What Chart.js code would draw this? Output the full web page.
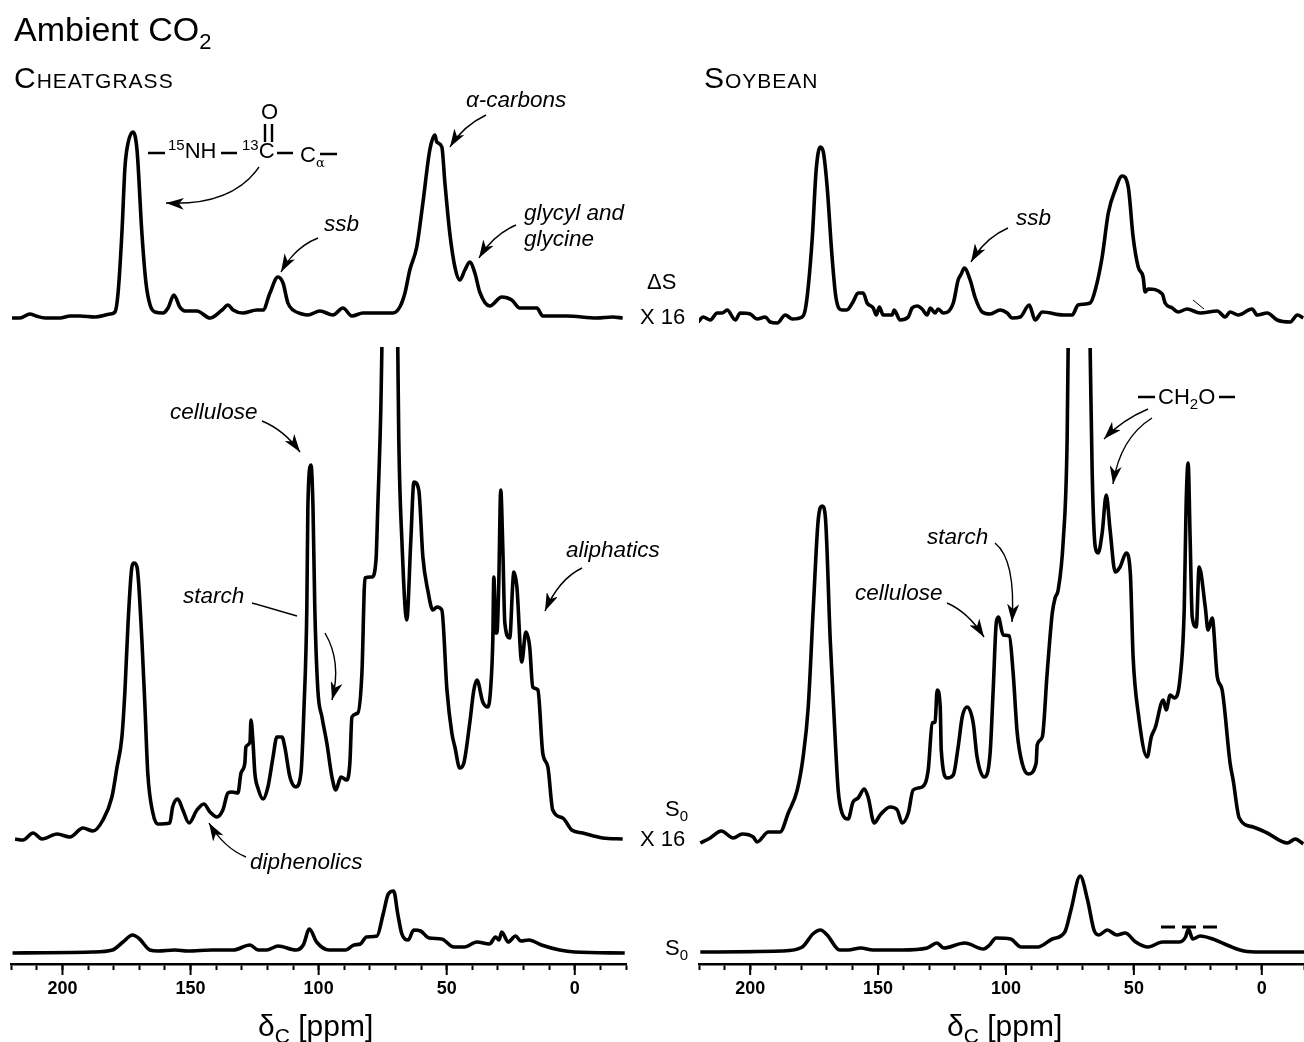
<!DOCTYPE html>
<html><head><meta charset="utf-8">
<script src="https://cdn.jsdelivr.net/npm/chart.js@4"></script>
<style>
html,body{margin:0;padding:0;background:#fff;width:1304px;height:1042px;overflow:hidden}
canvas{position:absolute;top:0}
#c1{left:0}#c2{left:652px}
svg{position:absolute;left:0;top:0}
.t{position:absolute;white-space:nowrap;font-family:"Liberation Sans",Arial,sans-serif;color:#000;line-height:1}
.i{font-style:italic;font-size:22.5px}
.n{font-size:22px}
.sc{font-variant:small-caps;font-size:30px;letter-spacing:1px}
sub,sup{line-height:0}
.ax{font-size:30px}
</style></head><body>
<canvas id="c1" width="652" height="1042"></canvas>
<canvas id="c2" width="678" height="1042"></canvas>
<svg width="1304" height="1042" viewBox="0 0 1304 1042">
<defs><marker id="h" markerUnits="userSpaceOnUse" markerWidth="18" markerHeight="12" refX="18" refY="6" orient="auto"><path d="M18,6 L0,0 L5,6 L0,12 Z" fill="#000"/></marker></defs>
<g fill="none" stroke="#000" stroke-width="1.4">
<path marker-end="url(#h)" d="M259,167 Q232,206 166,203"/>
<path marker-end="url(#h)" d="M318,238 Q295,247 281,272"/>
<path marker-end="url(#h)" d="M486,115 Q463,126 450,147"/>
<path marker-end="url(#h)" d="M516,225 Q493,235 479,258"/>
<path marker-end="url(#h)" d="M262,421 Q284,430 300,452"/>
<path d="M252,603 L297,616"/>
<path marker-end="url(#h)" d="M325,633 Q342,662 332,700"/>
<path marker-end="url(#h)" d="M582,568 Q559,579 545,611"/>
<path marker-end="url(#h)" d="M246,857 Q224,848 209,823"/>
<path marker-end="url(#h)" d="M1008,228 Q985,238 971,262"/>
<path marker-end="url(#h)" d="M1148,409 Q1122,420 1104,439"/>
<path marker-end="url(#h)" d="M1152,418 Q1120,438 1113,484"/>
<path marker-end="url(#h)" d="M947,603 Q968,612 984,637"/>
<path marker-end="url(#h)" d="M995,543 Q1016,560 1012,622"/>
<path d="M1193,300 L1204,309" stroke-width="1"/>
</g>
<g stroke="#000" stroke-width="2.4" fill="none">
<path d="M148,153H165M221,153H237M277,153H293M320,154H337"/>
<path d="M265,124V142M272,124V142"/>
<path d="M1138,397H1155M1219,397H1235"/>
</g>
<path d="M1161,927H1175M1182,927H1196M1203,927H1217" stroke="#000" stroke-width="3" fill="none"/>
</svg>
<div class="t" style="left:14px;top:12px;font-size:34px">Ambient CO<sub style="font-size:22px">2</sub></div>
<div class="t sc" style="left:14px;top:63px">Cheatgrass</div>
<div class="t sc" style="left:704px;top:63px">Soybean</div>
<div class="t n" style="left:168px;top:140px"><sup style="font-size:15px">15</sup>NH</div>
<div class="t n" style="left:242px;top:140px"><sup style="font-size:15px">13</sup>C</div>
<div class="t n" style="left:300px;top:144px">C<sub style="font-size:13px;font-family:'DejaVu Serif'">&#945;</sub></div>
<div class="t n" style="left:261px;top:101px">O</div>
<div class="t n" style="left:1158px;top:386px">CH<sub style="font-size:15px">2</sub>O</div>
<div class="t i" style="left:466px;top:89px">&#945;-carbons</div>
<div class="t i" style="left:324px;top:213px">ssb</div>
<div class="t i" style="left:524px;top:202px">glycyl and</div>
<div class="t i" style="left:524px;top:228px">glycine</div>
<div class="t i" style="left:170px;top:401px">cellulose</div>
<div class="t i" style="left:183px;top:585px">starch</div>
<div class="t i" style="left:566px;top:539px">aliphatics</div>
<div class="t i" style="left:250px;top:851px">diphenolics</div>
<div class="t i" style="left:1016px;top:207px">ssb</div>
<div class="t i" style="left:927px;top:526px">starch</div>
<div class="t i" style="left:855px;top:582px">cellulose</div>
<div class="t n" style="left:647px;top:271px">&#916;S</div>
<div class="t n" style="left:640px;top:306px">X 16</div>
<div class="t n" style="left:665px;top:798px">S<sub style="font-size:15px">0</sub></div>
<div class="t n" style="left:640px;top:828px">X 16</div>
<div class="t n" style="left:665px;top:937px">S<sub style="font-size:15px">0</sub></div>
<div class="t ax" style="left:258px;top:1011px">&#948;<sub style="font-size:21px">C</sub> [ppm]</div>
<div class="t ax" style="left:947px;top:1011px">&#948;<sub style="font-size:21px">C</sub> [ppm]</div>
<script>
const tickLabels = [200, 150, 100, 50, 0];

const cheatDeltaPpm = [219.7,216.6,212.7,210.3,206.8,201,197,193.2,187.3,181.4,179.5,178.3,176.8,175.6,174.4,172.5,170.9,169,167.4,165.8,163.9,160.8,158.8,156.5,154.2,152.2,147.5,142.4,137.7,135.4,133.4,129.6,124.1,121.7,119,115.9,113.9,112,110,106.5,104.2,99.5,94.4,90.5,87,82.7,71,68.3,66.3,64.4,61.7,59.3,56.6,54.6,53.9,51.9,50.7,48.8,46.8,44.9,42.9,41,39,37.1,33.2,28.5,24.6,21.5,14.8,12.5,3.1,-8.6,-14.8,-18.7];
const cheatDeltaVal = [0,0,4,2,0,0,2,2,1,4,6,25,85,151,175,186,168,85,35,13,6,5,10,23,11,7,7,0,8,13,8,5,8,8,25,41,35,15,8,4,3,7,3,10,2,5,5,11,25,48,71,115,168,183,176,171,135,85,51,38,48,56,45,26,12,21,18,10,10,2,2,0,1,0];

const cheatS16Ppm = [218.5,215.4,211.5,208,202.1,197.1,192,188.1,184.2,180.7,178.7,176.8,175.6,174.4,172.9,172.1,170.9,169,167.8,166.7,164.7,162.8,158.1,157,155,153,150.6,147.5,144.8,142.4,139.7,137.4,135.4,133.8,131.5,130.3,128.8,128.4,126.8,126.4,125.6,124.9,123.7,121.7,119.8,117.8,116.3,114.3,113.2,111.2,108.9,106.9,105.7,104.6,104.2,103,102.2,101.5,100.3,98.7,96.8,94.8,93.3,91.3,89,87.8,87,84.7,83.1,81.9,79.2,77.6,76.9,75.7,75.3,72,69.1,68.7,67.5,65.6,64,62.8,60.9,59.3,57.4,55.4,53.8,51.9,49.9,48,46.8,44.9,43.3,41,39.4,38.2,35.9,33.9,32.8,32,31.6,30.8,30.4,29.7,28.9,28.1,27.3,25.4,24.2,23.8,22.6,20.7,19.1,17.6,16.4,14.4,12.5,10.5,8.6,4.7,1.2,-3.1,-10.9,-18.7];
const cheatS16Val = [1,0,7,1,6,3,12,9,20,43,73,103,150,217,273,277,273,200,133,67,27,16,17,33,41,30,17,30,36,28,23,30,47,48,47,67,77,93,98,120,97,67,52,41,53,83,103,103,93,63,53,67,133,233,333,375,333,233,150,123,97,63,50,63,60,77,123,127,167,262,263,280,333,433,493,null,493,400,300,220,300,358,350,283,250,230,233,230,150,107,93,72,77,117,150,160,138,133,153,200,263,207,207,253,350,293,217,202,257,268,253,178,208,193,153,150,87,73,30,22,10,7,2,1];

const cheatSPpm = [219.5,188.6,180.5,176.4,172.7,169.9,165.9,162.6,156.1,151.2,141.4,133.3,126.8,123.6,120.3,115.8,108.9,106,103.6,100.8,95.9,89.4,86.2,83.7,81.3,77.2,74.8,72.8,70.7,69.1,67.5,65,62.9,60.2,56.9,52,47.2,43.1,38.2,33.3,30.9,29.6,28.5,26,23.1,21.1,17.9,13,5.9,0,-19.5];
const cheatSVal = [0,1,3,11,18,14,3,2,3,2,3,3,8,3,3,7,3,8,24,11,3,3,8,9,16,17,39,59,62,39,19,13,23,22,15,14,6,6,11,9,16,13,21,11,17,12,13,8,3,1,0];

const soyDeltaPpm = [220.3,218.4,215.6,212.9,210.9,209,205.8,203.9,200,197.3,194.1,192.2,189.4,186.3,183.5,179.7,178.5,177.3,175.7,174.2,172.6,171.4,169.9,168.1,166.5,164.1,162.2,159.8,157.8,155.8,154.3,151.9,150.7,149.5,148,144.5,143.7,141.4,138.2,136.7,134.7,132.8,130.8,129.6,127.7,126.5,124.5,120.6,118.7,117.5,116.3,114,112,109.3,106.2,102.3,99.5,97.6,94.4,90.9,88.6,85.8,77.6,74.1,71.8,67.1,65.1,62.4,60,57.3,54.6,52.2,50.3,48.3,46.4,45.6,44.4,38.9,37.8,35,32.7,29.2,24.1,17.4,14.3,12.4,9.2,3.8,1.8,-2.1,-6,-11.1,-13.9,-16.2];
const soyDeltaVal = [-4,1,-2,5,5,8,-2,5,4,-1,1,-4,-5,3,-1,1,8,31,81,148,171,166,131,65,21,8,8,16,25,25,15,10,3,11,3,3,8,-2,1,10,12,9,3,10,5,9,5,15,38,44,50,38,20,6,4,8,5,0,1,13,-2,6,3,3,13,15,28,61,105,128,142,131,81,51,41,26,29,24,15,10,6,9,5,7,1,6,3,9,3,5,-2,-4,3,0];

const soyS16Ppm = [219.5,215.6,211.3,206.6,203.1,198.8,197.3,192.9,188.3,185.1,181.6,179.3,177.3,175.3,173.4,171.8,170.6,168.7,166.8,165.6,164.1,161.7,159.8,157.8,155.4,153.9,151.5,149.2,145.3,142.5,140.6,138.2,136.3,132.8,130.4,128.8,127.7,126.9,125.7,125.3,123,120.6,118.7,117.1,115.2,112.8,111.3,108.5,106.2,105,103.8,103,101.1,98.7,97.2,95.6,93.7,91.3,88.2,87.8,85.8,83.9,81.9,80.8,79.6,77.6,76.1,75.7,71,67.1,66.3,65.1,64,62.4,60.8,59.3,57.3,55.4,53,51.4,50.3,48.3,44.8,43.2,41.7,38.5,37.4,35.8,34.2,31.9,30.3,29.6,28.8,28,27.2,25.6,24.5,22.1,21,19.4,17.4,15.5,12.4,11.2,8.8,3.4,-2.1,-10,-13.1,-16.2];
const soyS16Val = [-1,4,11,4,8,5,0,10,10,29,52,85,135,235,322,336,325,202,105,52,29,23,40,44,53,45,19,27,35,32,19,29,52,55,72,119,120,152,135,92,64,67,95,125,135,119,85,65,89,152,219,225,207,206,169,109,79,68,79,97,105,169,229,244,252,302,402,494,null,494,369,295,289,309,347,312,270,275,289,269,185,129,85,105,114,142,132,147,144,165,235,335,379,302,225,215,275,235,212,224,165,152,79,62,24,15,9,-1,3,-2];

const soySPpm = [219.5,187.8,179.6,175.5,172.5,169.9,165,161.7,156.8,152,140.6,130.8,127,124.3,116.1,108.8,106.4,103.9,98.2,94.1,87.6,81.9,77,74.6,71,68.1,65.6,63.7,60.4,56.7,53.4,49.3,44.5,38.8,32.2,29.8,28.7,27,24.1,19.2,12.7,7,0.5,-17.1];
const soySVal = [0,1,5,18,22,17,2,2,4,2,2,4,9,4,9,3,7,14,13,5,5,13,20,42,76,52,22,17,22,17,19,10,5,10,10,15,23,13,16,13,6,1,0,0];

const pts = (xs, ys) => xs.map((x, i) => ({x, y: ys[i]}));
const trace = (xs, ys, axis) => ({
  data: pts(xs, ys), yAxisID: axis, borderColor: '#000', borderWidth: 3.6,
  pointRadius: 0, cubicInterpolationMode: 'monotone', borderJoinStyle: 'round', borderCapStyle: 'butt', spanGaps: false, fill: false
});
const TOP = 964;
const yAxis = base => ({type: 'linear', display: false, min: base - TOP, max: base});

function majorTicks(chart) {
  const s = chart.scales.x, c = chart.ctx;
  c.save(); c.strokeStyle = '#000'; c.lineWidth = 2;
  tickLabels.forEach(v => {
    const p = s.getPixelForValue(v);
    c.beginPath(); c.moveTo(p, s.top); c.lineTo(p, s.top + 11); c.stroke();
  });
  c.restore();
}

function make(id, series, padL, padR, xMin, bases) {
  new Chart(document.getElementById(id), {
    type: 'line',
    data: {datasets: [trace(series[0], series[1], 'yT'), trace(series[2], series[3], 'yM'), trace(series[4], series[5], 'yB')]},
    options: {
      responsive: false, animation: false, events: [],
      layout: {padding: {left: padL, right: padR, top: 0, bottom: 0}},
      plugins: {legend: {display: false}, tooltip: {enabled: false}, title: {display: false}},
      scales: {
        x: {
          type: 'linear', reverse: true, min: xMin, max: 220,
          afterFit: a => { a.height = 1042 - TOP; },
          border: {display: true, color: '#000', width: 2.5},
          grid: {drawOnChartArea: false, drawTicks: true, tickLength: 6, tickWidth: 2, tickColor: '#000'},
          ticks: {
            stepSize: 10, autoSkip: false, maxRotation: 0, minRotation: 0, padding: 8,
            color: '#000', font: {family: '"Liberation Sans", Arial, sans-serif', size: 18, weight: 'bold'},
            callback: v => tickLabels.includes(v) ? String(v) : ''
          }
        },
        yT: yAxis(bases[0]), yM: yAxis(bases[1]), yB: yAxis(bases[2])
      }
    },
    plugins: [{id: 'majors', afterDraw: majorTicks}]
  });
}
make('c1', [cheatDeltaPpm, cheatDeltaVal, cheatS16Ppm, cheatS16Val, cheatSPpm, cheatSVal], 11.25, 26, -20, [318, 840, 953]);
make('c2', [soyDeltaPpm, soyDeltaVal, soyS16Ppm, soyS16Val, soySPpm, soySVal], 47, 26, -16.5, [318, 842, 952]);
</script>
</body></html>
